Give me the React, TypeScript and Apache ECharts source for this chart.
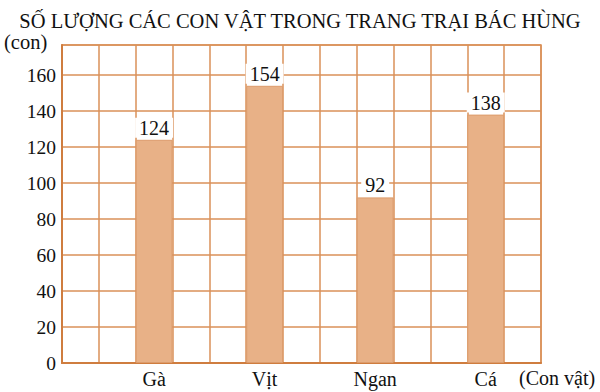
import React, { useEffect, useRef } from "react";
import * as echarts from "echarts";

const TITLE = "SỐ LƯỢNG CÁC CON VẬT TRONG TRANG TRẠI BÁC HÙNG";
const Y_NAME = "(con)";
const X_NAME = "(Con vật)";
const animals = ["Gà", "Vịt", "Ngan", "Cá"];
const counts = [124, 154, 92, 138];
const SLOT_COUNT = 13;
const animalSlots = [2, 5, 8, 11];
const Y_MAX = 176.67;
const Y_STEP = 20;

const FONT = "Liberation Serif";
const GRID_COLOR = "#DA9058";
const AXIS_COLOR = "#CF7D3F";
const BAR_COLOR = "#E8B187";

export default function App() {
  const ref = useRef<HTMLDivElement>(null);

  useEffect(() => {
    if (!ref.current) return;
    const chart = echarts.init(ref.current, null, { renderer: "svg" });

    const slotLabels: string[] = Array(SLOT_COUNT).fill("");
    const slotValues: (number | string)[] = Array(SLOT_COUNT).fill("-");
    animalSlots.forEach((s, i) => {
      slotLabels[s] = animals[i];
      slotValues[s] = counts[i];
    });

    chart.setOption({
      animation: false,
      backgroundColor: "#ffffff",
      textStyle: { fontFamily: FONT },
      title: {
        text: TITLE,
        left: "center",
        top: 5,
        textStyle: {
          fontFamily: FONT,
          fontSize: 20.5,
          fontWeight: "normal",
          color: "#111",
        },
      },
      grid: {
        left: 62,
        right: 59,
        top: 45,
        bottom: 29,
        show: true,
        borderColor: GRID_COLOR,
        borderWidth: 1.5,
      },
      graphic: [
        {
          type: "text",
          left: 4,
          top: 31,
          style: { text: Y_NAME, fontFamily: FONT, fontSize: 20.5, fill: "#111" },
        },
        {
          type: "text",
          left: 519,
          top: 368,
          style: { text: X_NAME, fontFamily: FONT, fontSize: 20, fill: "#111" },
        },
      ],
      xAxis: {
        type: "category",
        data: slotLabels,
        boundaryGap: true,
        axisTick: { show: false },
        axisLine: { show: true, lineStyle: { color: AXIS_COLOR, width: 2 } },
        axisLabel: {
          interval: 0,
          margin: 6,
          fontFamily: FONT,
          fontSize: 20,
          color: "#111",
        },
        splitLine: {
          show: true,
          interval: 0,
          lineStyle: { color: GRID_COLOR, width: 1.5 },
        },
      },
      yAxis: {
        type: "value",
        min: 0,
        max: Y_MAX,
        interval: Y_STEP,
        axisLine: { show: true, lineStyle: { color: AXIS_COLOR, width: 2 } },
        axisTick: { show: false },
        axisLabel: {
          showMaxLabel: false,
          margin: 6,
          fontFamily: FONT,
          fontSize: 19.5,
          color: "#111",
        },
        splitLine: { show: true, lineStyle: { color: GRID_COLOR, width: 1.5 } },
      },
      series: [
        {
          type: "bar",
          data: slotValues,
          barCategoryGap: "0%",
          barWidth: "100%",
          itemStyle: { color: BAR_COLOR, borderColor: "#DC9C6C", borderWidth: 1 },
          label: {
            show: true,
            position: "top",
            distance: 2,
            fontFamily: FONT,
            fontSize: 20,
            color: "#111",
            backgroundColor: "#ffffff",
            padding: [0, 4, 0, 4],
          },
        },
      ],
    });

    return () => chart.dispose();
  }, []);

  return (
    <div
      ref={ref}
      style={{ position: "fixed", left: 0, top: 0, width: 600, height: 392 }}
    />
  );
}
